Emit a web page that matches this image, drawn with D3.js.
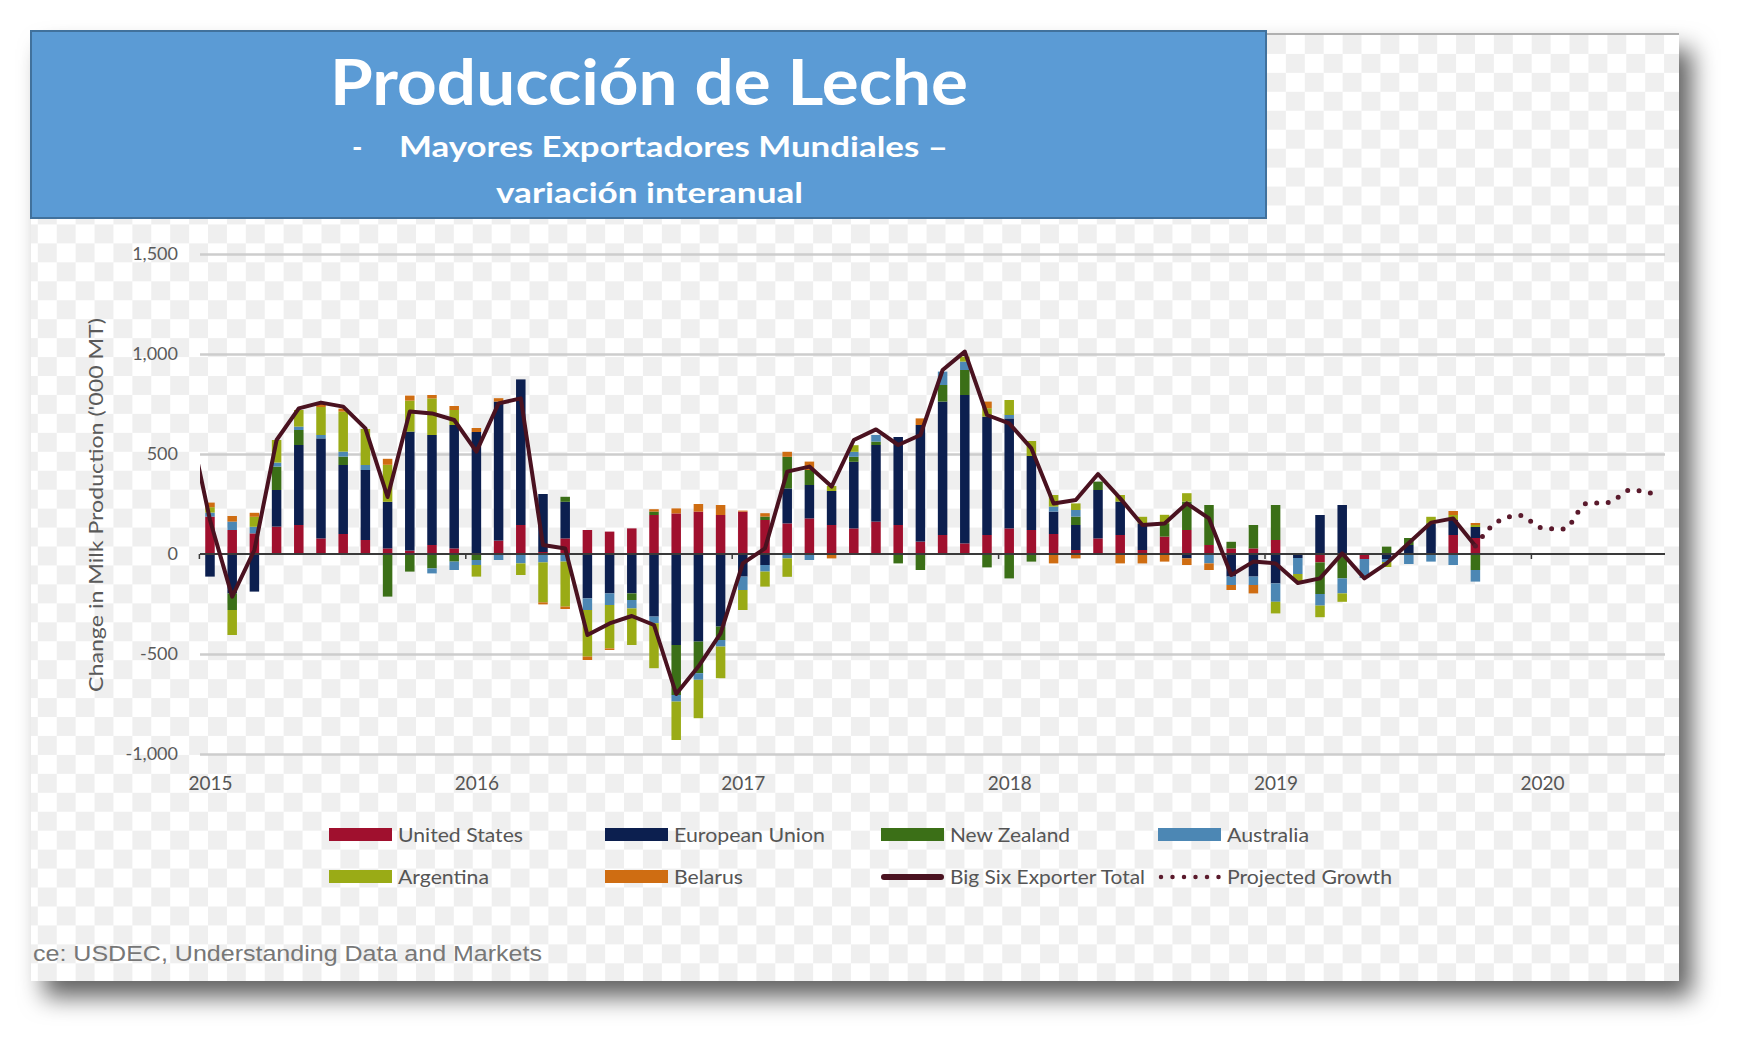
<!DOCTYPE html>
<html><head><meta charset="utf-8">
<script src="https://cdn.jsdelivr.net/npm/d3@7"></script>
<style>html,body{margin:0;padding:0;background:#fff;} svg{display:block}</style>
</head><body>
<svg id="c" width="1744" height="1046"></svg>
<script>
// ---------- data (thousand MT, year-over-year change), monthly from Jan 2015 ----------
const firstMonth = "2015-01";
const yearLabels = ["2015","2016","2017","2018","2019","2020"];
const yTicks = [-1000,-500,0,500,1000,1500];
const countries = ["United States","European Union","New Zealand","Australia","Argentina","Belarus"];
const countryColors = ["#a0102e","#0c1f4f","#3b6f17","#4c87b4","#9aab16","#cf6d12"];

const unitedStates = [187,120,103,137,145,78,100,70,28,17,45,28, 0,67,145,10,78,120,112,128,195,203,212,195,
  212,170,153,178,145,128,162,145,62,95,53,95, 128,120,100,20,78,95,20,87,120,45,28,28, 70,0,-42,0,-25,0,0,0,95,80];
const europeanUnion = [-113,-197,-188,183,400,500,345,350,233,595,550,617, 610,695,728,290,183,-222,-197,-197,-313,-455,-438,-363,
  -113,-55,175,167,170,333,383,440,583,667,742,592, 550,370,112,125,242,167,133,0,-22,0,-113,-113, -147,-20,195,245,0,-25,45,153,75,55];
const newZealand = [0,-83,0,117,75,0,42,0,-213,-88,-72,-38, -30,0,0,0,25,0,0,-33,17,-250,-158,-67,
  0,17,158,75,0,25,17,-47,-80,83,125,-67, -122,-38,0,42,42,0,0,67,142,200,33,117, 175,0,-158,-122,0,37,35,0,0,-80];
const australia = [20,42,33,20,17,17,25,25,0,0,-25,-42, -25,-30,-47,-42,-38,-58,-58,-42,-33,-33,-33,-33,
  -67,-33,-22,-30,0,25,33,0,0,67,42,0, 17,0,25,33,0,0,0,0,0,-47,-42,-42, -92,-80,-58,-75,-95,-15,-50,-38,-55,-58];
const argentina = [27,-125,50,113,83,140,200,180,185,155,183,75, -58,0,-58,-200,-225,-233,-217,-183,-225,-192,-192,-158,
  -100,-75,-92,0,25,33,0,0,0,0,25,42, 75,75,58,33,0,33,33,42,42,0,0,0, -58,-35,-58,-42,0,-25,0,33,25,10];
const belarus = [23,28,20,0,0,17,15,0,30,25,17,20, 20,17,0,-10,-12,-17,-8,0,12,25,38,50,
  5,17,25,42,-22,0,0,0,33,0,0,33, 0,0,-47,-22,0,-47,-47,-38,-33,-33,-25,-42, 0,0,0,0,0,0,0,0,20,10];

// Big Six exporter total, starting Dec 2014 (month index -1)
const totalStartIndex = -1;
const bigSixTotal = [690, 170,-213,20,570,728,757,737,628,285,712,703,670, 512,753,778,45,28,-405,-347,-310,-355,-700,-563,-397,
  -47,28,412,437,337,570,623,545,595,920,1012,695, 653,528,253,270,400,278,145,153,253,178,-105,-38, -47,-145,-122,3,-122,-47,55,157,178,40];
// Projected growth, starting Oct 2019 (month index 57)
const projectedStartIndex = 57;
const projectedGrowth = [40,162,193,130,125,252,258,320,302];

// ---------- layout ----------
const svg = d3.select("#c");
const defs = svg.append("defs");

const cellW = 18.91, cellH = 18.945;
const pat = defs.append("pattern").attr("id","checker").attr("patternUnits","userSpaceOnUse")
  .attr("x",0).attr("y",35).attr("width",cellW*2).attr("height",cellH*2);
pat.append("rect").attr("width",cellW*2).attr("height",cellH*2).attr("fill","#ffffff");
pat.append("rect").attr("x",cellW).attr("y",0).attr("width",cellW).attr("height",cellH).attr("fill","#efefef");
pat.append("rect").attr("x",0).attr("y",cellH).attr("width",cellW).attr("height",cellH).attr("fill","#efefef");

const f = defs.append("filter").attr("id","shadow").attr("x","-5%").attr("y","-5%").attr("width","115%").attr("height","125%");
f.append("feDropShadow").attr("dx",13).attr("dy",16).attr("stdDeviation",12)
  .attr("flood-color","#000").attr("flood-opacity",0.62);

const img = {x0:31, y0:33, x1:1679, y1:981};
svg.append("rect").attr("x",img.x0).attr("y",img.y0).attr("width",img.x1-img.x0).attr("height",img.y1-img.y0)
  .attr("fill","#fff").attr("filter","url(#shadow)");
svg.append("rect").attr("x",img.x0).attr("y",img.y0).attr("width",img.x1-img.x0).attr("height",img.y1-img.y0)
  .attr("fill","url(#checker)");
svg.append("line").attr("x1",img.x0).attr("x2",img.x1).attr("y1",img.y0+1).attr("y2",img.y0+1)
  .attr("stroke","#b0b0b0").attr("stroke-width",2);

const plot = {left:200, right:1665, top:254, bottom:754};
const x = d3.scaleLinear().domain([-0.45, 65.54]).range([plot.left, plot.right]);
const y = d3.scaleLinear().domain([-1000, 1500]).range([plot.bottom, plot.top]);

defs.append("clipPath").attr("id","plotclip").append("rect")
  .attr("x",plot.left).attr("y",plot.top-20).attr("width",plot.right-plot.left).attr("height",plot.bottom-plot.top+40);

const fmt = d => d3.format(",")(d).replace("\u2212","-");

// gridlines
const grid = svg.append("g").attr("transform",`translate(${plot.left},0)`)
  .call(d3.axisLeft(y).tickValues(yTicks.filter(t=>t!==0)).tickSize(-(plot.right-plot.left)).tickFormat(""));
grid.select(".domain").remove();
grid.selectAll("line").attr("stroke","#cdcdcd").attr("stroke-width",2.6);

// y axis labels
const ya = svg.append("g").attr("transform",`translate(${plot.left},0)`)
  .call(d3.axisLeft(y).tickValues(yTicks).tickSize(0).tickPadding(22).tickFormat(fmt));
ya.select(".domain").remove();
ya.selectAll("text").attr("font-family","Lato, 'Open Sans', sans-serif").attr("font-size",18).attr("fill","#5a5a5a");

// y title
svg.append("text").attr("transform","translate(103,505) rotate(-90)").attr("text-anchor","middle")
  .attr("font-family","Lato, 'Open Sans', sans-serif").attr("font-size",19).attr("fill","#5a5a5a")
  .attr("textLength",374).attr("lengthAdjust","spacingAndGlyphs")
  .text("Change in Milk Production ('000 MT)");

// stacked bars
const keys = ["us","eu","nz","au","ar","by"];
const series = [unitedStates, europeanUnion, newZealand, australia, argentina, belarus];
const rows = unitedStates.map((_, i) => {
  const r = {i};
  keys.forEach((k, j) => r[k] = series[j][i]);
  return r;
});
const stack = d3.stack().keys(keys).offset(d3.stackOffsetDiverging);
const stacked = stack(rows);
const barW = 9.5;
svg.append("g").selectAll("g").data(stacked).join("g")
  .attr("fill", (d, j) => countryColors[j])
  .selectAll("rect").data(d => d).join("rect")
  .attr("x", d => x(d.data.i) - barW/2)
  .attr("width", barW)
  .attr("y", d => y(Math.max(d[0], d[1])))
  .attr("height", d => Math.abs(y(d[0]) - y(d[1])));

// zero line
svg.append("line").attr("x1",plot.left).attr("x2",plot.right).attr("y1",y(0)).attr("y2",y(0))
  .attr("stroke","#3a3a3a").attr("stroke-width",2);
// year boundary ticks on zero line
const yb = svg.append("g").attr("transform",`translate(0,${y(0)})`)
  .call(d3.axisBottom(x).tickValues(yearLabels.map((_, k) => 12*k - 0.5)).tickSize(5).tickFormat(""));
yb.select(".domain").remove();
yb.selectAll("line").attr("stroke","#3a3a3a").attr("stroke-width",1.5);

// year labels
const xa = svg.append("g").attr("transform",`translate(0,776)`)
  .call(d3.axisBottom(x).tickValues(yearLabels.map((_, k) => 12*k)).tickSize(0).tickPadding(0)
    .tickFormat((d, k) => yearLabels[k]));
xa.select(".domain").remove();
xa.selectAll("text").attr("font-family","Lato, 'Open Sans', sans-serif").attr("font-size",19).attr("fill","#555");

// total line
const clipG = svg.append("g").attr("clip-path","url(#plotclip)");
const line = d3.line().x((d, k) => x(totalStartIndex + k)).y(d => y(d));
clipG.append("path").datum(bigSixTotal).attr("d", line)
  .attr("fill","none").attr("stroke","#4a1220").attr("stroke-width",4).attr("stroke-linejoin","round");
const pline = d3.line().x((d, k) => x(projectedStartIndex + k)).y(d => y(d)).curve(d3.curveMonotoneX);
clipG.append("path").datum(projectedGrowth).attr("d", pline)
  .attr("fill","none").attr("stroke","#5a1a2c").attr("stroke-width",5).attr("stroke-linecap","round")
  .attr("stroke-dasharray","0 11.5");

// legend
const legendFont = "Lato, 'Open Sans', sans-serif";
const legendItems = [
  {name:"United States", type:"rect", color:countryColors[0], sx:329, ty:835, tw:125},
  {name:"European Union", type:"rect", color:countryColors[1], sx:605, ty:835, tw:151},
  {name:"New Zealand", type:"rect", color:countryColors[2], sx:881, ty:835, tw:120},
  {name:"Australia", type:"rect", color:countryColors[3], sx:1158, ty:835, tw:82},
  {name:"Argentina", type:"rect", color:countryColors[4], sx:329, ty:877, tw:91},
  {name:"Belarus", type:"rect", color:countryColors[5], sx:605, ty:877, tw:69},
  {name:"Big Six Exporter Total", type:"line", color:"#4a1220", sx:881, ty:877, tw:195},
  {name:"Projected Growth", type:"dots", color:"#5a1a2c", sx:1157, ty:877, tw:165}
];
const lg = svg.append("g");
legendItems.forEach(it => {
  if (it.type === "rect") {
    lg.append("rect").attr("x",it.sx).attr("y",it.ty-7).attr("width",63).attr("height",13).attr("fill",it.color);
  } else if (it.type === "line") {
    lg.append("line").attr("x1",it.sx+3).attr("x2",it.sx+60).attr("y1",it.ty).attr("y2",it.ty)
      .attr("stroke",it.color).attr("stroke-width",6).attr("stroke-linecap","round");
  } else {
    lg.append("line").attr("x1",it.sx+4).attr("x2",it.sx+62).attr("y1",it.ty).attr("y2",it.ty)
      .attr("stroke",it.color).attr("stroke-width",4.5).attr("stroke-linecap","round").attr("stroke-dasharray","0 11.5");
  }
  const tx = it.type === "dots" ? it.sx + 70 : it.sx + 69;
  lg.append("text").attr("x",tx).attr("y",it.ty).attr("dy","0.35em")
    .attr("font-family",legendFont).attr("font-size",19).attr("fill","#555")
    .attr("textLength",it.tw).attr("lengthAdjust","spacingAndGlyphs").text(it.name);
});

// source (cut at the picture's left edge)
svg.append("text").attr("x",33).attr("y",961).attr("font-family","'Liberation Sans', Arial, sans-serif")
  .attr("font-size",22).attr("fill","#777").attr("textLength",509).attr("lengthAdjust","spacingAndGlyphs")
  .text("ce: USDEC, Understanding Data and Markets");

// title box
svg.append("rect").attr("x",31).attr("y",31).attr("width",1235).attr("height",187)
  .attr("fill","#5b9bd5").attr("stroke","#41719c").attr("stroke-width",2);
const tf = "Lato, 'Open Sans', sans-serif";
svg.append("text").attr("x",330).attr("y",105).attr("font-family",tf).attr("font-weight",700)
  .attr("font-size",64).attr("fill","#fff").attr("textLength",638).attr("lengthAdjust","spacingAndGlyphs")
  .text("Producción de Leche");
svg.append("text").attr("x",352).attr("y",157).attr("font-family",tf).attr("font-weight",700)
  .attr("font-size",28).attr("fill","#fff").text("-");
svg.append("text").attr("x",399).attr("y",157).attr("font-family",tf).attr("font-weight",700)
  .attr("font-size",28).attr("fill","#fff").attr("textLength",549).attr("lengthAdjust","spacingAndGlyphs")
  .text("Mayores Exportadores Mundiales –");
svg.append("text").attr("x",496).attr("y",203).attr("font-family",tf).attr("font-weight",700)
  .attr("font-size",28).attr("fill","#fff").attr("textLength",307).attr("lengthAdjust","spacingAndGlyphs")
  .text("variación interanual");
</script>
</body></html>
